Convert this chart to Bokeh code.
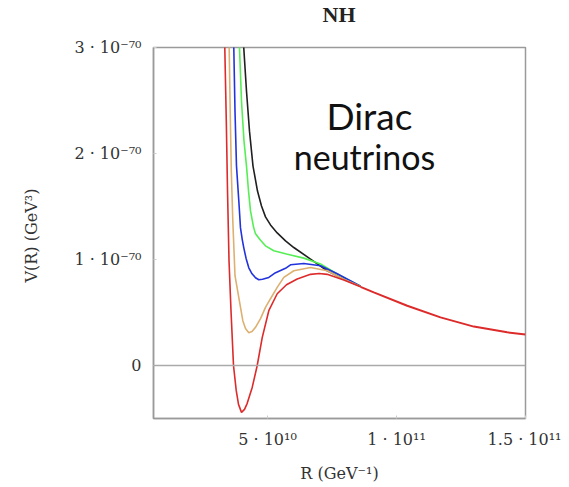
from bokeh.plotting import figure
from bokeh.models import Range1d, FixedTicker, Span, Label, Div
from bokeh.layouts import column
from bokeh.embed import file_html
from bokeh.resources import INLINE

# R in units of 1e10 GeV^-1, V in units of 1e-70 GeV^3
black_R = [4.06, 4.081, 4.186, 4.302, 4.438, 4.612, 4.767, 4.922, 5.116, 5.376, 5.698, 6.019, 6.667, 7.314, 7.957, 8.605]
black_V = [3.1, 2.992, 2.587, 2.211, 1.881, 1.646, 1.505, 1.402, 1.326, 1.251, 1.176, 1.113, 1.004, 0.894, 0.816, 0.748]

green_R = [3.9, 3.915, 3.992, 4.089, 4.186, 4.264, 4.341, 4.457, 4.535, 4.729, 4.922, 5.244, 5.736, 6.407, 7.054, 7.702, 8.605]
green_V = [3.1, 2.992, 2.493, 2.117, 1.881, 1.646, 1.458, 1.308, 1.242, 1.181, 1.129, 1.082, 1.051, 1.013, 0.957, 0.863, 0.748]

blue_R = [3.685, 3.694, 3.740, 3.798, 3.888, 3.953, 4.02, 4.081, 4.17, 4.275, 4.40, 4.535, 4.663, 4.806, 5.050, 5.271, 5.698, 5.891, 6.407, 7.054, 7.702, 8.605]
blue_V = [3.1, 2.992, 2.399, 1.881, 1.552, 1.298, 1.19, 1.110, 1.01, 0.922, 0.865, 0.828, 0.809, 0.814, 0.831, 0.870, 0.917, 0.950, 0.962, 0.941, 0.865, 0.748]

tan_R = [3.505, 3.515, 3.554, 3.597, 3.655, 3.740, 3.888, 4.043, 4.147, 4.275, 4.399, 4.535, 4.729, 4.922, 5.116, 5.376, 5.632, 6.019, 6.667, 7.314, 7.957, 8.605]
tan_V = [3.1, 2.992, 2.399, 1.834, 1.364, 0.847, 0.640, 0.423, 0.348, 0.310, 0.320, 0.360, 0.442, 0.548, 0.630, 0.737, 0.831, 0.894, 0.925, 0.894, 0.814, 0.745]

red_R = [3.33, 3.345, 3.403, 3.450, 3.508, 3.585, 3.682, 3.787, 3.876, 3.992, 4.109, 4.213, 4.407, 4.601, 4.795, 5.050, 5.376, 5.736, 6.151, 6.667, 7.0, 7.314, 7.957, 8.605]
red_V = [3.1, 2.992, 2.305, 1.646, 0.988, 0.517, 0.0, -0.235, -0.367, -0.442, -0.414, -0.357, -0.207, 0.0, 0.263, 0.517, 0.677, 0.762, 0.816, 0.860, 0.868, 0.860, 0.806, 0.742]

tail_R = [8.605, 9.120, 10.415, 11.705, 12.996, 14.291, 15.0]
tail_V = [0.742, 0.690, 0.564, 0.454, 0.367, 0.313, 0.292]

x_ticks = [5, 10, 15]
x_tick_labels = ["5 · 10¹⁰", "1 · 10¹¹", "1.5 · 10¹¹"]
y_ticks = [0, 1, 2, 3]
y_tick_labels = ["0", "1 · 10⁻⁷⁰", "2 · 10⁻⁷⁰", "3 · 10⁻⁷⁰"]

SERIF = "DejaVu Serif"

title_div = Div(text="NH", width=372, height=30, margin=(0, 0, 0, 153),
                styles={"font-family": "Liberation Serif", "font-weight": "bold",
                        "font-size": "22px", "text-align": "center",
                        "line-height": "30px", "color": "#222222", "width": "372px"})

p = figure(width=561, height=457, output_backend="svg", toolbar_location=None,
           x_range=Range1d(0.581, 15.0), y_range=Range1d(-0.5, 3.0),
           min_border_left=153, min_border_right=36, min_border_top=17, min_border_bottom=69)

p.grid.visible = False
p.outline_line_color = "#9a9a9a"
p.outline_line_width = 1.5
p.background_fill_color = "white"
p.border_fill_color = "white"

for ax in (p.xaxis[0], p.yaxis[0]):
    ax.axis_line_color = "#9a9a9a"
    ax.axis_line_width = 1.5
    ax.major_tick_in = 3
    ax.major_tick_out = 0
    ax.major_tick_line_color = "#cccccc"
    ax.minor_tick_line_color = None
    ax.major_label_text_font = SERIF
    ax.major_label_text_font_size = "16px"
    ax.major_label_text_color = "#333333"
    ax.axis_label_text_font = SERIF
    ax.axis_label_text_font_size = "16px"
    ax.axis_label_text_font_style = "normal"
    ax.axis_label_text_color = "#333333"

p.xaxis.ticker = FixedTicker(ticks=x_ticks)
p.xaxis.major_label_overrides = dict(zip(x_ticks, x_tick_labels))
p.yaxis.ticker = FixedTicker(ticks=y_ticks)
p.yaxis.major_label_overrides = dict(zip(y_ticks, y_tick_labels))
p.xaxis.axis_label = "R (GeV⁻¹)"
p.yaxis.axis_label = "V(R)  (GeV³)"
p.xaxis.major_label_standoff = 11
p.yaxis.major_label_standoff = 12
p.xaxis.axis_label_standoff = 12
p.yaxis.axis_label_standoff = 30

p.add_layout(Span(location=0, dimension="width", line_color="#aaaaaa", line_width=1.5))

lw = 1.6
p.line(black_R, black_V, line_color="#202020", line_width=lw)
p.line(green_R, green_V, line_color="#55ee55", line_width=lw)
p.line(blue_R, blue_V, line_color="#2233dd", line_width=lw)
p.line(tan_R, tan_V, line_color="#ddb070", line_width=lw)
p.line(red_R, red_V, line_color="#dd2a2a", line_width=lw)
p.line(tail_R, tail_V, line_color="#dd2a2a", line_width=lw + 0.4)

p.add_layout(Label(x=8.95, y=2.15, text="Dirac", text_align="center", text_font="Lato",
                   text_font_size="37px", text_color="#111111"))
p.add_layout(Label(x=8.76, y=1.78, text="neutrinos", text_align="center", text_font="Lato",
                   text_font_size="34px", text_color="#111111"))

layout = column(title_div, p, spacing=0)
open("out.html", "w").write(file_html(layout, INLINE))
